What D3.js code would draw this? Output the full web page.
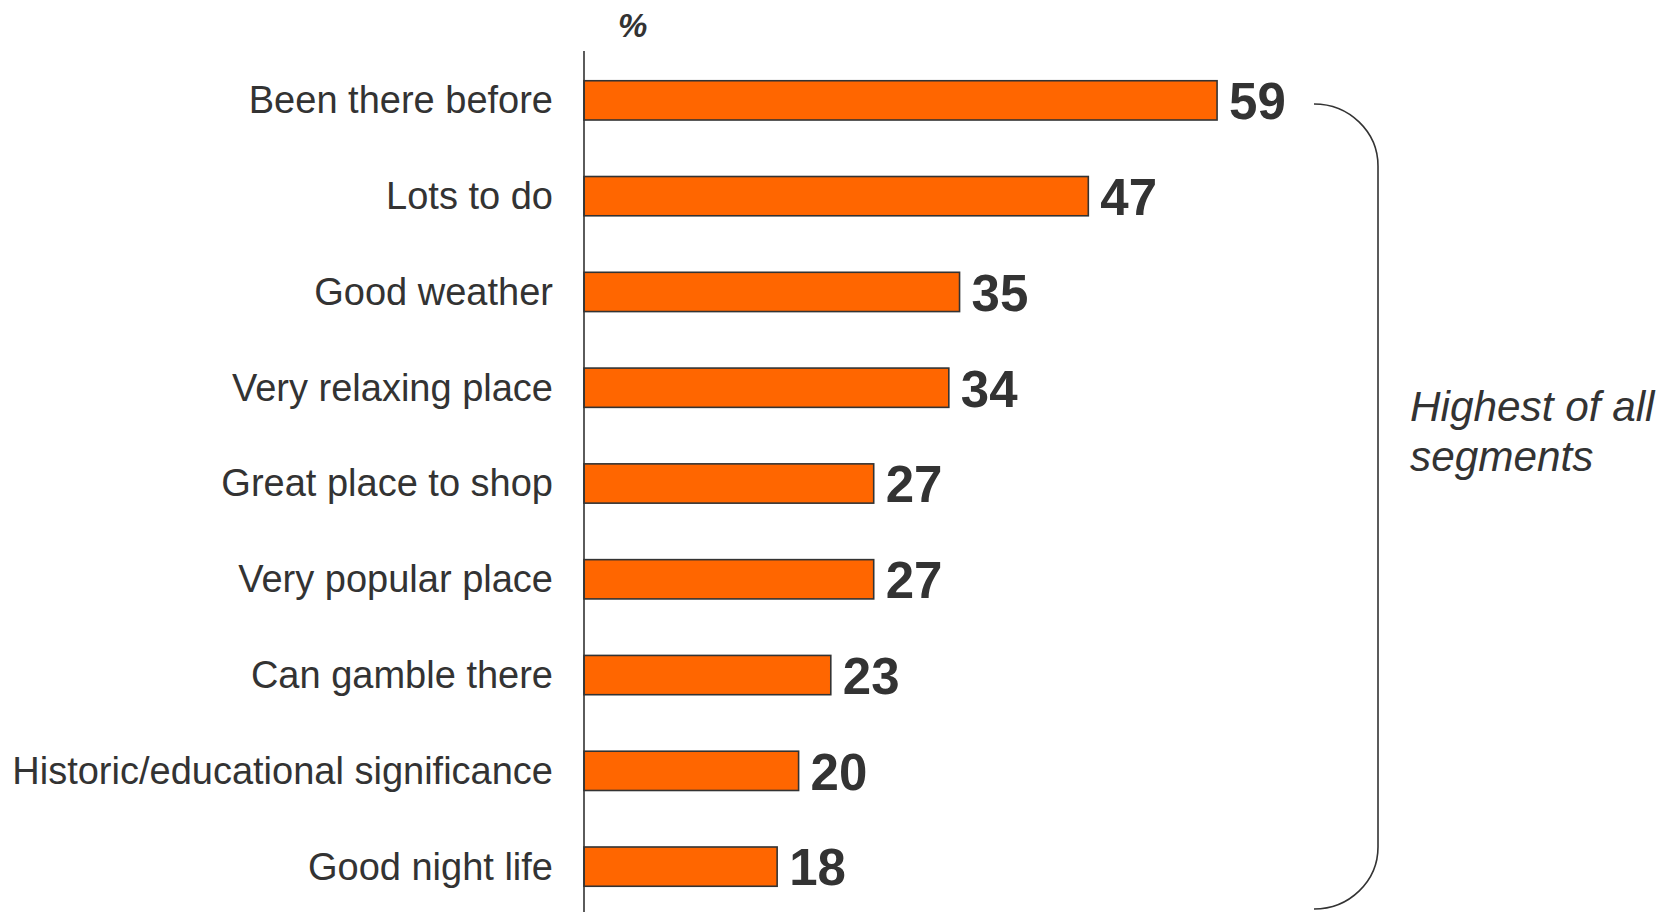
<!DOCTYPE html>
<html>
<head>
<meta charset="utf-8">
<script src="https://cdn.jsdelivr.net/npm/d3@7"></script>
<style>
  html, body { margin: 0; padding: 0; background: #fff; }
  svg { display: block; }
</style>
</head>
<body>
<svg id="chart" width="1671" height="912"></svg>
<script>
// Reasons for choosing the destination (%)
const categories = [
  "Been there before",
  "Lots to do",
  "Good weather",
  "Very relaxing place",
  "Great place to shop",
  "Very popular place",
  "Can gamble there",
  "Historic/educational significance",
  "Good night life"
];
const values = [59, 47, 35, 34, 27, 27, 23, 20, 18];
const unitLabel = "%";
const noteLines = ["Highest of all", "segments"];

const svg = d3.select("#chart");
const ink = "#333333";
const barFill = "#FF6600";
const font = "'Liberation Sans', Arial, Helvetica, sans-serif";

const axisX = 584;
const x = d3.scaleLinear().domain([0, 60]).range([axisX, axisX + 60 * 10.73]);
const y = d3.scaleBand()
  .domain(categories)
  .range([52, 915])
  .paddingInner(0.59)
  .paddingOuter(0.3);

const rows = categories.map((c, i) => ({ cat: c, val: values[i] }));

// bars
svg.append("g").selectAll("rect")
  .data(rows)
  .join("rect")
  .attr("x", x(0))
  .attr("y", d => y(d.cat))
  .attr("width", d => x(d.val) - x(0))
  .attr("height", y.bandwidth())
  .attr("fill", barFill)
  .attr("stroke", ink)
  .attr("stroke-width", 1.6);

// category axis (labels only, no ticks)
const yAxis = d3.axisLeft(y).tickSize(0).tickPadding(31);
const gy = svg.append("g")
  .attr("transform", `translate(${axisX},0)`)
  .call(yAxis);
gy.select(".domain").remove();
gy.selectAll("text")
  .attr("font-family", font)
  .attr("font-size", 38)
  .attr("fill", ink)
  .attr("dy", "0.34em");

// vertical baseline
svg.append("line")
  .attr("x1", axisX).attr("x2", axisX)
  .attr("y1", 51).attr("y2", 912)
  .attr("stroke", ink)
  .attr("stroke-width", 1.6);

// value labels
svg.append("g").selectAll("text")
  .data(rows)
  .join("text")
  .attr("x", d => x(d.val) + 12)
  .attr("y", d => y(d.cat) + y.bandwidth() / 2)
  .attr("dy", "0.37em")
  .attr("font-family", font)
  .attr("font-weight", "bold")
  .attr("font-size", 51)
  .attr("fill", ink)
  .text(d => d.val);

// unit label
svg.append("text")
  .attr("x", 618)
  .attr("y", 37)
  .attr("font-family", font)
  .attr("font-weight", "bold")
  .attr("font-style", "italic")
  .attr("font-size", 33)
  .attr("fill", ink)
  .text(unitLabel);

// bracket spanning all rows
const bx0 = 1314, bx1 = 1378, bTop = 104, bBottom = 909, bR = 62;
svg.append("path")
  .attr("d", `M${bx0},${bTop} A${bx1 - bx0},${bR} 0 0 1 ${bx1},${bTop + bR}` +
             ` L${bx1},${bBottom - bR} A${bx1 - bx0},${bR} 0 0 1 ${bx0},${bBottom}`)
  .attr("fill", "none")
  .attr("stroke", ink)
  .attr("stroke-width", 1.6);

// bracket note
svg.append("text")
  .attr("x", 1410)
  .attr("y", 421)
  .attr("font-family", font)
  .attr("font-style", "italic")
  .attr("font-size", 42.3)
  .attr("fill", ink)
  .selectAll("tspan")
  .data(noteLines)
  .join("tspan")
  .attr("x", 1410)
  .attr("dy", (d, i) => i === 0 ? 0 : 50)
  .text(d => d);
</script>
</body>
</html>
